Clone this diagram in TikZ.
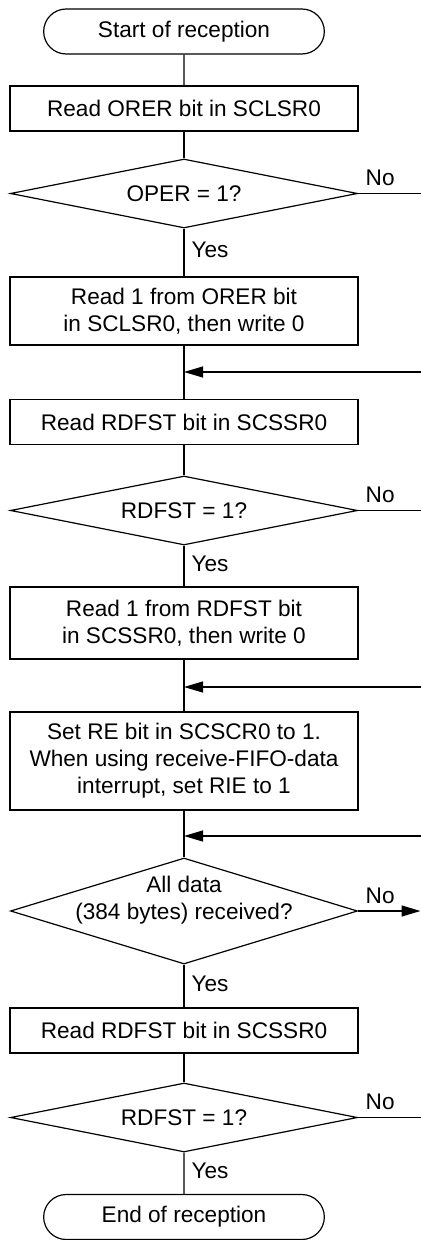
\documentclass[tikz,border=0pt]{standalone}
\usepackage{fontspec}
\setmainfont{Liberation Sans}
\usepackage{tikz}
\usetikzlibrary{shapes.geometric, shapes.misc, arrows.meta}

\begin{document}
\begin{tikzpicture}[x=0.5pt, y=-0.5pt,
    font=\fontsize{11.3}{13.5}\selectfont,
    term/.style={
        rounded rectangle, draw, line width=0.6pt,
        minimum width=147pt, minimum height=22.5pt
    },
    proc/.style={
        rectangle, draw, line width=0.6pt, align=center,
        minimum width=174pt, minimum height=22.5pt
    },
    dec/.style={
        diamond, draw, line width=0.6pt, inner sep=0pt, aspect=5,
        minimum width=173.5pt, minimum height=34.5pt
    },
    line/.style={line width=0.6pt},
    arr/.style={-{Triangle[length=9.5pt, width=5.5pt]}, line width=0.6pt},
    yeslbl/.style={right, pos=0.45, inner sep=3.5pt},
    nolbl/.style={pos=0, anchor=south west, inner sep=3.5pt}
]
\useasboundingbox (0,0) rectangle (421,1240);

\node[term] (start) at (184,31.5)  {Start of reception};
\node[proc] (rd1)   at (184,108.5) {Read ORER bit in SCLSR0};
\node[dec]  (q1)    at (184,193.5) {OPER = 1?};
\node[proc, minimum height=34pt] (clr1) at (184,311) {Read 1 from ORER bit\\in SCLSR0, then write 0};
\node[proc] (rd2)   at (184,422)   {Read RDFST bit in SCSSR0};
\node[dec]  (q2)    at (184,510.5) {RDFST = 1?};
\node[proc, minimum height=36pt] (clr2) at (184,623) {Read 1 from RDFST bit\\in SCSSR0, then write 0};
\node[proc, minimum height=49pt] (setre) at (184,761) {Set RE bit in SCSCR0 to 1.\\When using receive-FIFO-data\\interrupt, set RIE to 1};
\node[dec, minimum height=53pt, label={[align=center, yshift=5.5pt]center:All data\\(384 bytes) received?}] (q3) at (184,911) {};
\node[proc] (rd3)   at (184,1030.5) {Read RDFST bit in SCSSR0};
\node[dec]  (q4)    at (184,1117.5) {RDFST = 1?};
\node[term] (stop)  at (184,1217)  {End of reception};

\coordinate (j1) at (184,372);  \coordinate (e1) at (421,372);
\coordinate (j2) at (184,687);  \coordinate (e2) at (421,687);
\coordinate (j3) at (184,836);  \coordinate (e3) at (421,836);
\coordinate (n1) at (421,193.5);
\coordinate (n2) at (421,510.5);
\coordinate (n3) at (420.5,911);
\coordinate (n4) at (421,1117.5);

\draw[line] (start) -- (rd1);
\draw[line] (rd1) -- (q1);
\draw[line] (q1) -- node[yeslbl]{Yes} (clr1);
\draw[line] (q1.east) -- node[nolbl]{No} (n1);
\draw[line] (clr1) -- (rd2);
\draw[arr] (e1) -- (j1);

\draw[line] (rd2) -- (q2);
\draw[line] (q2) -- node[yeslbl]{Yes} (clr2);
\draw[line] (q2.east) -- node[nolbl]{No} (n2);
\draw[line] (clr2) -- (setre);
\draw[arr] (e2) -- (j2);

\draw[line] (setre) -- (q3);
\draw[arr] (e3) -- (j3);
\draw[line] (q3) -- node[yeslbl]{Yes} (rd3);
\draw[arr] (q3.east) -- node[nolbl]{No} (n3);

\draw[line] (rd3) -- (q4);
\draw[line] (q4) -- node[yeslbl]{Yes} (stop);
\draw[line] (q4.east) -- node[nolbl]{No} (n4);

\end{tikzpicture}
\end{document}
